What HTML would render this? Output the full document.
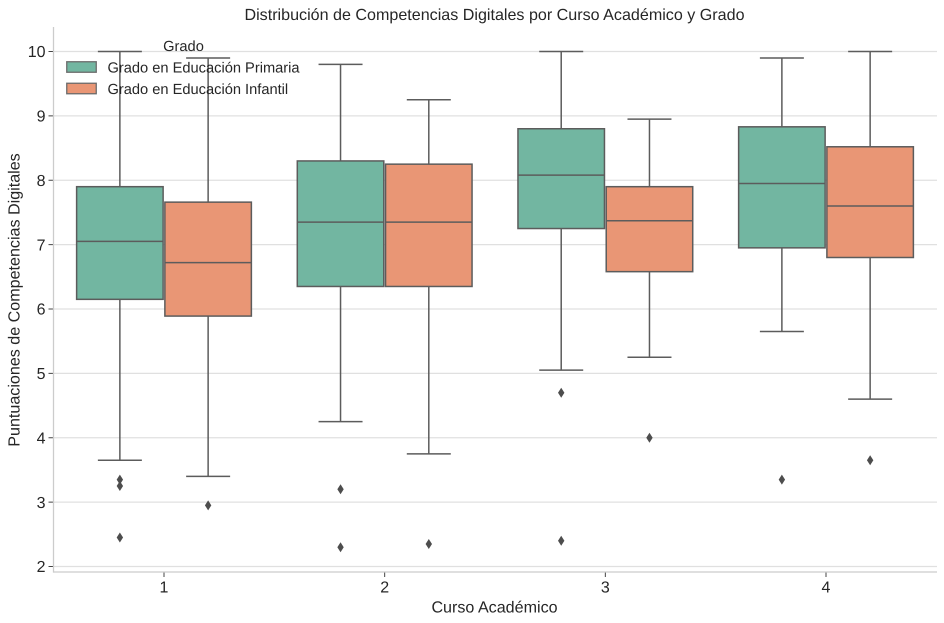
<!DOCTYPE html>
<html lang="es">
<head>
<meta charset="utf-8">
<title>Distribución de Competencias Digitales</title>
<style>
html,body{margin:0;padding:0;background:#fff;}
svg{display:block;font-family:"Liberation Sans",sans-serif;text-rendering:geometricPrecision;}
text{fill:#262626;}
</style>
</head>
<body>
<svg id="chart" width="944" height="623" viewBox="0 0 944 623" xmlns="http://www.w3.org/2000/svg">
  <rect x="0" y="0" width="944" height="623" fill="#ffffff"/>
  <g id="grid"></g>
  <g id="marks"></g>
  <g id="axes"></g>
  <text x="494.5" y="20" font-size="16.1" text-anchor="middle">Distribución de Competencias Digitales por Curso Académico y Grado</text>
  <text x="494.5" y="612.5" font-size="16.1" text-anchor="middle">Curso Académico</text>
  <text transform="translate(19.5,300) rotate(-90)" font-size="16.1" text-anchor="middle">Puntuaciones de Competencias Digitales</text>
  <g>
    <text x="183.5" y="51" font-size="14.65" text-anchor="middle">Grado</text>
    <rect x="66.75" y="61.75" width="29.5" height="10.5" fill="#72b6a1" stroke="#6b6b6b" stroke-width="1.3"/>
    <text x="107.5" y="72.5" font-size="14.65">Grado en Educación Primaria</text>
    <rect x="66.75" y="83.25" width="29.5" height="10.5" fill="#e99675" stroke="#6b6b6b" stroke-width="1.3"/>
    <text x="107.5" y="94" font-size="14.65">Grado en Educación Infantil</text>
  </g>
</svg>
<script>
const courses = ["1", "2", "3", "4"];
const yTicks = [2, 3, 4, 5, 6, 7, 8, 9, 10];
const seriesNames = ["primaria", "infantil"];
const seriesColors = ["#72b6a1", "#e99675"];
const primariaLow = [3.65, 4.25, 5.05, 5.65];
const primariaQ1 = [6.15, 6.35, 7.25, 6.95];
const primariaMedian = [7.05, 7.35, 8.08, 7.95];
const primariaQ3 = [7.9, 8.3, 8.8, 8.83];
const primariaHigh = [10, 9.8, 10, 9.9];
const primariaFliers = [[3.35, 3.25, 2.45], [3.2, 2.3], [4.7, 2.4], [3.35]];
const infantilLow = [3.4, 3.75, 5.25, 4.6];
const infantilQ1 = [5.89, 6.35, 6.58, 6.8];
const infantilMedian = [6.72, 7.35, 7.37, 7.6];
const infantilQ3 = [7.66, 8.25, 7.9, 8.52];
const infantilHigh = [9.9, 9.25, 8.95, 10];
const infantilFliers = [[2.95], [2.35], [4.0], [3.65]];

const NS = "http://www.w3.org/2000/svg";
const plotLeft = 53.5, plotRight = 937, plotBottom = 572, plotTop = 27;
const LINE = "#5c5c5c";

function yScale(v) { return 566.5 + (v - 2) * (51.5 - 566.5) / 8; }
function xScale(i) { return 164 + i * 220.67; }
function seriesOffset(s) { return s === 0 ? -44.13 : 44.13; }

function make(tag, attrs, parent) {
  const el = document.createElementNS(NS, tag);
  for (const k in attrs) el.setAttribute(k, attrs[k]);
  parent.appendChild(el);
  return el;
}

const gridG = document.getElementById("grid");
const axesG = document.getElementById("axes");
const marksG = document.getElementById("marks");

yTicks.forEach(function (t) {
  const y = yScale(t);
  const line = make("line", { x1: plotLeft, x2: plotRight, y1: y, y2: y, stroke: "#e0e0e0", "stroke-width": 1.2 }, gridG);
  
  
  const tick = make("line", { x1: plotLeft - 5, x2: plotLeft, y1: y, y2: y, stroke: "#444", "stroke-width": 1 }, axesG);
  
  
  const label = make("text", { x: plotLeft - 8, y: y + 5.7, "font-size": 16, "text-anchor": "end" }, axesG);
  label.textContent = String(t);
  
  
});

courses.forEach(function (c, i) {
  const x = xScale(i);
  const tick = make("line", { x1: x, x2: x, y1: plotBottom, y2: plotBottom + 5, stroke: "#444", "stroke-width": 1 }, axesG);
  
  
  const label = make("text", { x: x, y: plotBottom + 20.5, "font-size": 16, "text-anchor": "middle" }, axesG);
  label.textContent = c;
  
  
});

const leftSpine = make("line", { x1: plotLeft, x2: plotLeft, y1: plotTop, y2: plotBottom + 0.6, stroke: "#cccccc", "stroke-width": 1.25 }, axesG);


const bottomSpine = make("line", { x1: plotLeft, x2: plotRight, y1: plotBottom, y2: plotBottom, stroke: "#cccccc", "stroke-width": 1.25 }, axesG);



const seriesData = [
  { low: primariaLow, q1: primariaQ1, med: primariaMedian, q3: primariaQ3, high: primariaHigh, fliers: primariaFliers },
  { low: infantilLow, q1: infantilQ1, med: infantilMedian, q3: infantilQ3, high: infantilHigh, fliers: infantilFliers }
];

seriesData.forEach(function (d, s) {
  courses.forEach(function (c, i) {
    const cx = xScale(i) + seriesOffset(s);
    const bw = 86.5, cap = 22;
    const g = make("g", {}, marksG);
    
    
    const segs = [
      [cx, yScale(d.q3[i]), cx, yScale(d.high[i])],
      [cx, yScale(d.q1[i]), cx, yScale(d.low[i])],
      [cx - cap, yScale(d.high[i]), cx + cap, yScale(d.high[i])],
      [cx - cap, yScale(d.low[i]), cx + cap, yScale(d.low[i])]
    ];
    segs.forEach(function (p) {
      const w = make("line", { x1: p[0], y1: p[1], x2: p[2], y2: p[3], stroke: LINE, "stroke-width": 1.5 }, g);
      
      
    });
    const top = yScale(d.q3[i]), bot = yScale(d.q1[i]);
    const rect = make("rect", { x: cx - bw / 2, y: top, width: bw, height: bot - top, fill: seriesColors[s], stroke: LINE, "stroke-width": 1.5 }, g);
    
    
    const my = yScale(d.med[i]);
    const med = make("line", { x1: cx - bw / 2, x2: cx + bw / 2, y1: my, y2: my, stroke: LINE, "stroke-width": 1.5 }, g);
    
    
    d.fliers[i].forEach(function (f) {
      const fy = yScale(f);
      const pts = [[cx, fy - 5], [cx + 3.2, fy], [cx, fy + 5], [cx - 3.2, fy]].join(" ");
      const dia = make("polygon", { points: pts, fill: "#4d4d4d" }, g);
      
      
    });
  });
});
</script>
</body>
</html>
